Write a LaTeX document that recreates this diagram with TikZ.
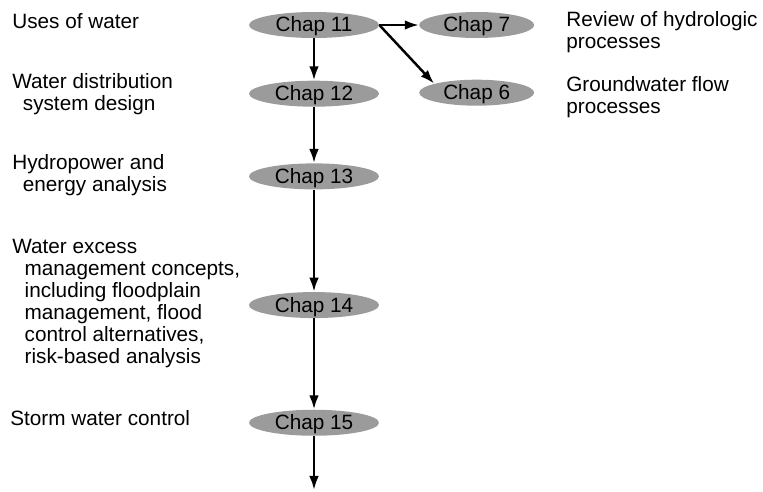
\documentclass[tikz,border=0pt]{standalone}
\usepackage{fontspec}
\setmainfont{Liberation Sans}
\usepackage{tikz}
\usetikzlibrary{shapes.geometric, arrows.meta, positioning}
\usepackage{xcolor}
\definecolor{cChap}{RGB}{155,155,155}
\tikzset{
  chapnode/.style={ellipse, fill=cChap, draw=none, inner sep=0pt,
                   minimum width=2.6cm, minimum height=0.52cm,
                   text height=1.5ex, text depth=0pt,
                   font=\fontsize{11.8}{12.5}\selectfont},
  topicnode/.style={align=left, inner sep=0pt,
                    font=\fontsize{11.8}{12.5}\selectfont},
  arrow/.style={-{Latex[length=8pt,width=5.5pt]}, line width=1.4pt}
}
\begin{document}
\begin{tikzpicture}[x=0.02cm, y=-0.02cm]
  \useasboundingbox (0,0) rectangle (763,491);

  % Chapters
  \node[chapnode] (c11) at (314,25) {Chap 11};
  \node[chapnode, below=0.84cm of c11] (c12) {Chap 12};
  \node[chapnode, below=1.12cm of c12] (c13) {Chap 13};
  \node[chapnode, below=2.04cm of c13] (c14) {Chap 14};
  \node[chapnode, below=1.82cm of c14] (c15) {Chap 15};
  \node[chapnode, minimum width=2.3cm, right=0.79cm of c11] (c7) {Chap 7};
  \node[chapnode, minimum width=2.3cm, below=0.82cm of c7] (c6) {Chap 6};
  \coordinate (out) at (314,490);

  % Topics (left)
  \node[topicnode, anchor=base west] (uses) at (12,28) {Uses of water};
  \node[topicnode, anchor=north west] (dist) at (12,73)
      {Water distribution\\\hspace*{6pt}system design};
  \node[topicnode, anchor=north west] (hydro) at (12,154)
      {Hydropower and\\\hspace*{6pt}energy analysis};
  \node[topicnode, anchor=north west] (excess) at (12,239)
      {Water excess\\\hspace*{7pt}management concepts,\\\hspace*{7pt}including floodplain\\%
       \hspace*{7pt}management, flood\\\hspace*{7pt}control alternatives,\\\hspace*{7pt}risk-based analysis};
  \node[topicnode, anchor=base west] (storm) at (10,425) {Storm water control};

  % Topics (right)
  \node[topicnode, anchor=north west] (review) at (566,11)
      {Review of hydrologic\\processes};
  \node[topicnode, anchor=north west] (ground) at (566,76)
      {Groundwater flow\\processes};

  % Arrows
  \draw[arrow] (c11) -- (c12);
  \draw[arrow] (c12) -- (c13);
  \draw[arrow] (c13) -- (c14);
  \draw[arrow] (c14) -- (c15);
  \draw[arrow] (c15) -- (out);
  \draw[arrow] (c11.east) -- (c7.west);
  \draw[arrow] (c11.east) -- (c6.168);

\end{tikzpicture}
\end{document}
